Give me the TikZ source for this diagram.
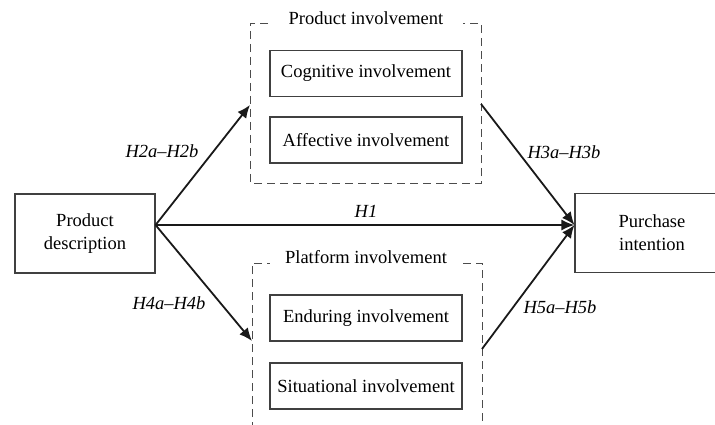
\documentclass[tikz,border=0pt]{standalone}
\usepackage{fontspec}
\setmainfont{Liberation Serif}
\usetikzlibrary{arrows.meta}
\tikzset{
  box/.style={draw=black!75, line width=1.1pt, align=center, inner sep=0pt,
    font=\fontsize{18.5}{23}\selectfont},
  outer/.style={box, minimum height=79pt},
  inner/.style={box, minimum width=192pt, minimum height=46pt},
  group/.style={draw=black!70, line width=0.9pt, dash pattern=on 8pt off 5pt},
  title/.style={font=\fontsize{18.5}{22}\selectfont, inner sep=0pt},
  link/.style={draw=black!90, line width=1.8pt, -{Latex[length=13pt,width=11pt]}},
  hyp/.style={font=\fontsize{18.5}{22}\selectfont\itshape, inner sep=0pt}
}
\begin{document}
\begin{tikzpicture}[x=1pt,y=-1pt]
\clip (0,0) rectangle (715,425);

% exogenous and outcome variables (the outcome box runs past the right edge)
\node[outer, minimum width=140pt] (desc) at (85,233.5) {Product\\description};
\node[outer, minimum width=154pt] (purch) at (652,233) {Purchase\\intention};

% product involvement group
\draw[group] (268,23) -- (250,23) -- (250,183) -- (481,183) -- (481,23) -- (463,23);
\node[title] (ptitle) at (366,18) {Product involvement};
\node[inner] (cog) at (366,73.5) {Cognitive involvement};
\node[inner] (aff) at (366,140) {Affective involvement};

% platform involvement group (open towards the lower edge)
\draw[group] (252,430) -- (252,263) -- (270,263);
\draw[group] (463,263) -- (482,263) -- (482,430);
\node[title] (ltitle) at (366,257) {Platform involvement};
\node[inner] (end) at (366,318) {Enduring involvement};
\node[inner] (sit) at (366,386) {Situational involvement};

% attachment points
\coordinate (src) at (desc.east |- 0,225);
\coordinate (dst) at (purch.west |- 0,225);
\coordinate (pin) at (250,105);
\coordinate (pout) at (481,104);
\coordinate (lin) at (252,341);
\coordinate (lout) at (482,349);

% hypothesised paths
\draw[link] (src) -- (pin);
\draw[link] (src) -- (lin);
\draw[link] (src) -- (dst);
\draw[link] (pout) -- (dst);
\draw[link] (lout) -- (dst);

% path labels
\node[hyp] (h2) at (162,151) {H2a–H2b};
\node[hyp] (h1) at (366,211) {H1};
\node[hyp] (h3) at (564,152) {H3a–H3b};
\node[hyp] (h4) at (169,303) {H4a–H4b};
\node[hyp] (h5) at (560,307) {H5a–H5b};
\end{tikzpicture}
\end{document}
